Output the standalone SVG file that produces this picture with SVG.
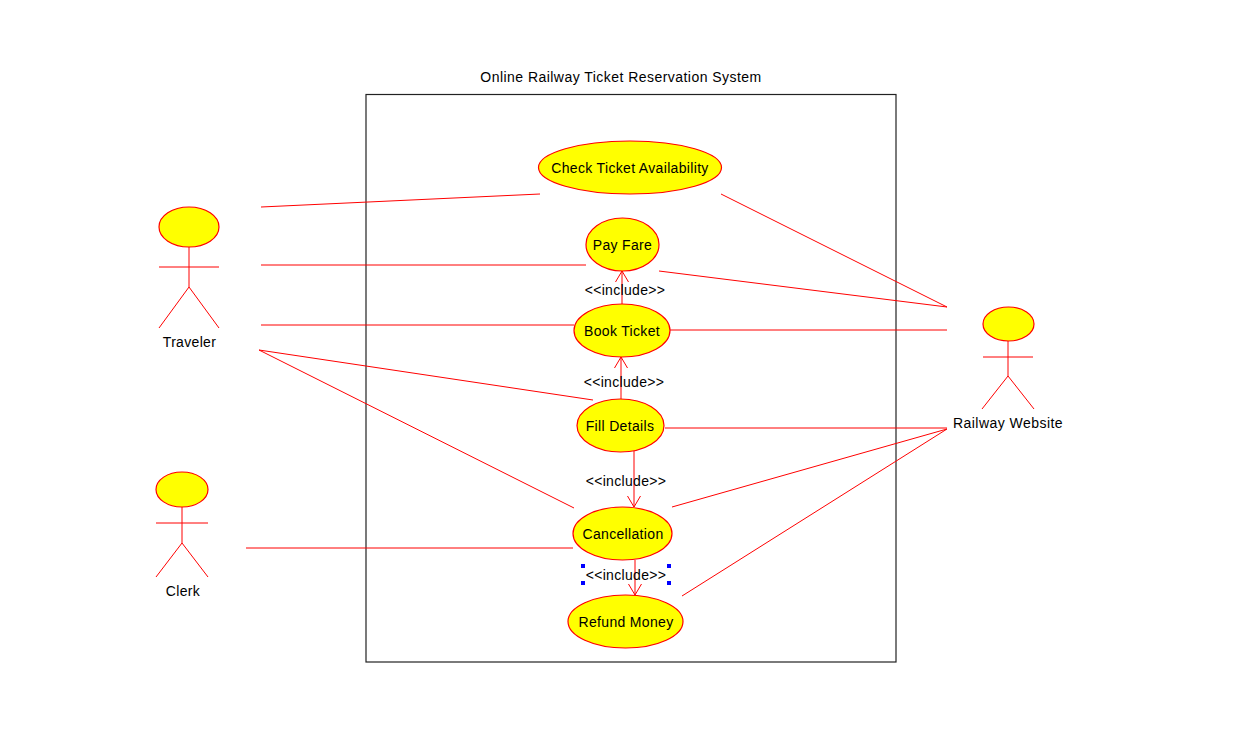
<svg xmlns="http://www.w3.org/2000/svg" width="1239" height="741" viewBox="0 0 1239 741">
<defs>
<marker id="arrow" markerUnits="userSpaceOnUse" markerWidth="20" markerHeight="20" refX="11" refY="8" orient="auto" overflow="visible"><path d="M0 1.500L11 8L0 14.500" fill="none" stroke="#ff0000" stroke-width="1"/></marker>
</defs>
<style>
text{font-family:"Liberation Sans",Arial,sans-serif;font-size:14px;fill:#000;text-anchor:middle;letter-spacing:.33px}
.wide{letter-spacing:.46px}
.n{fill:#ffff00;stroke:#ff0000;stroke-width:1.2}
.l{stroke:#ff0000;stroke-width:1;fill:none}
.h{fill:#0000ff}
</style>
<rect width="1239" height="741" fill="#fff"/>
<g id="system"><rect x="366" y="94.500" width="530" height="567.500" fill="none" stroke="#222" stroke-width="1.200"/><text class="wide" x="621" y="82">Online Railway Ticket Reservation System</text></g>
<g id="connectors">
<path class="l" d="M261 207L540 194M261 265H586M261 325H574M259 350L593 400M259 350L574 508M246 548H573M721 194L947 307M659 271L947 307M670 330H947M665 428H947M672 507L947 429M682 596L947 429"/>
<path class="l" marker-end="url(#arrow)" d="M622 304V271"/>
<path class="l" marker-end="url(#arrow)" d="M621 400V357"/>
<path class="l" marker-end="url(#arrow)" d="M634 451V507"/>
<path class="l" marker-end="url(#arrow)" d="M635 560V595"/>
<text x="625" y="295">&lt;&lt;include&gt;&gt;</text>
<text x="624" y="387">&lt;&lt;include&gt;&gt;</text>
<text x="626" y="486">&lt;&lt;include&gt;&gt;</text>
<text x="626" y="580">&lt;&lt;include&gt;&gt;</text>
<path class="h" d="M581 564h4v4h-4zM667 564h4v4h-4zM581 581h4v4h-4zM667 581h4v4h-4z"/>
</g>
<g id="traveler"><path class="l" d="M189 247V287M159 267H219M189 287L159 328M189 287L219 328"/><ellipse class="n" cx="189" cy="227" rx="30" ry="20"/><text x="189.500" y="347">Traveler</text></g>
<g id="clerk"><path class="l" d="M182 507V543M156 523H208M182 543L156 577M182 543L208 577"/><ellipse class="n" cx="182" cy="489.500" rx="26" ry="17.500"/><text x="183" y="596">Clerk</text></g>
<g id="railway-website"><path class="l" d="M1008 341V376M983 357H1033M1008 376L982 409M1008 376L1034 409"/><ellipse class="n" cx="1008.500" cy="324" rx="25.500" ry="17"/><text class="wide" x="1008" y="428">Railway Website</text></g>
<g id="check-ticket"><ellipse class="n" cx="630" cy="167.500" rx="91.500" ry="26.500"/><text x="630" y="173">Check Ticket Availability</text></g>
<g id="pay-fare"><ellipse class="n" cx="622.500" cy="244.500" rx="36.500" ry="26.500"/><text x="622.500" y="250">Pay Fare</text></g>
<g id="book-ticket"><ellipse class="n" cx="622" cy="330.500" rx="48" ry="26.500"/><text x="622" y="336">Book Ticket</text></g>
<g id="fill-details"><ellipse class="n" cx="620.500" cy="425.500" rx="43.500" ry="26.500"/><text x="620" y="431">Fill Details</text></g>
<g id="cancellation"><ellipse class="n" cx="622.500" cy="533.500" rx="49.500" ry="26.500"/><text x="623" y="539">Cancellation</text></g>
<g id="refund-money"><ellipse class="n" cx="625.500" cy="621.500" rx="57.500" ry="26.500"/><text x="626" y="627">Refund Money</text></g>
</svg>
